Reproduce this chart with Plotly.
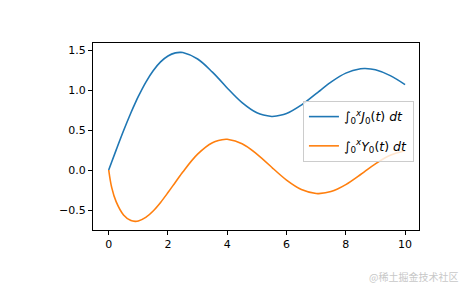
import plotly.graph_objects as go

# x positions (including extremum points)
x_vals = [0, 0.1, 0.25, 0.5, 0.75, 0.8936, 1.0, 1.25, 1.5, 1.75, 2.0, 2.25, 2.405,
          2.5, 3.0, 3.5, 3.958, 4.0, 4.5, 5.0, 5.5, 5.52, 6.0, 6.5, 7.0, 7.086,
          7.5, 8.0, 8.5, 8.654, 9.0, 9.5, 10.0]
int_j0 = [0.0, 0.0999, 0.2487, 0.4897, 0.7156, 0.8359, 0.9197, 1.0965, 1.2414,
          1.3517, 1.4258, 1.4640, 1.4703, 1.4680, 1.3876, 1.2233, 1.0414, 1.0247,
          0.8419, 0.7153, 0.6689, 0.6689, 0.7062, 0.8115, 0.9546, 0.9803, 1.0991,
          1.2107, 1.2649, 1.2681, 1.2522, 1.1794, 1.0670]
int_y0 = [0.0, -0.2174, -0.3959, -0.5618, -0.6323, -0.6418, -0.6371, -0.5927,
          -0.5117, -0.4049, -0.2821, -0.1526, -0.0726, -0.0248, 0.1977, 0.3410,
          0.3842, 0.3838, 0.3289, 0.1999, 0.0343, 0.0275, -0.1258, -0.2433,
          -0.2936, -0.2947, -0.2697, -0.1825, -0.0563, -0.0146, 0.0767, 0.1832,
          0.2395]

names = ["∫<sub>0</sub><sup><i>x</i></sup><i>J</i><sub>0</sub>(<i>t</i>) <i>dt</i>",
         "∫<sub>0</sub><sup><i>x</i></sup><i>Y</i><sub>0</sub>(<i>t</i>) <i>dt</i>"]
colors = ["#1f77b4", "#ff7f0e"]

fig = go.Figure()
for i, (ys, nm, c) in enumerate(zip([int_j0, int_y0], names, colors)):
    fig.add_trace(go.Scatter(x=x_vals, y=ys, mode="lines", name=nm,
                             legendgroup=f"g{i}",
                             line=dict(color=c, width=1.6, shape="spline", smoothing=1.0)))

axis_common = dict(showgrid=False, zeroline=False, showline=True, mirror=True,
                   linecolor="black", linewidth=1, ticks="outside", ticklen=4,
                   tickcolor="black", tickwidth=1,
                   tickfont=dict(family="DejaVu Sans", size=11, color="black"))

fig.update_layout(
    width=465, height=288,
    margin=dict(l=93, r=46, t=43, b=58),
    paper_bgcolor="white", plot_bgcolor="white",
    xaxis=dict(range=[-0.53, 10.47], tickvals=[0, 2, 4, 6, 8, 10], **axis_common),
    yaxis=dict(range=[-0.75, 1.5875], tickvals=[-0.5, 0.0, 0.5, 1.0, 1.5],
               ticktext=["−0.5", "0.0", "0.5", "1.0", "1.5"], **axis_common),
    legend=dict(x=0.644, y=0.69, xanchor="left", yanchor="top",
                bgcolor="rgba(255,255,255,0.8)", bordercolor="#cccccc", borderwidth=1,
                font=dict(family="DejaVu Sans", size=12.5, color="black"),
                itemwidth=30, tracegroupgap=10),
    showlegend=True,
    annotations=[dict(text="@稀土掘金技术社区", xref="paper", yref="paper",
                      x=1.126, y=-0.25, xanchor="right", yanchor="middle",
                      showarrow=False,
                      font=dict(family="Noto Sans CJK SC", size=10, color="#c8c8c8"))],
)

fig.write_html("out.html")
